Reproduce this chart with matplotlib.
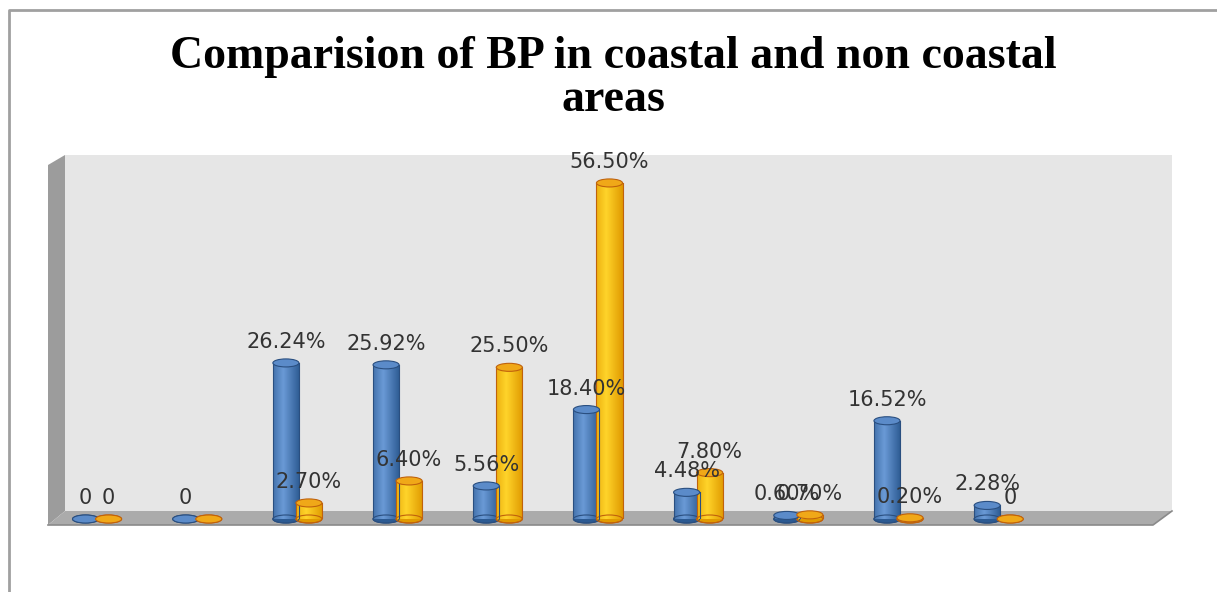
import matplotlib
matplotlib.use('Agg')
import matplotlib.pyplot as plt
import numpy as np
from matplotlib.patches import Rectangle, Ellipse, Polygon

# 两组数据：沿海 / 非沿海
coastal = [0, 0, 26.24, 25.92, 5.56, 18.40, 4.48, 0.60, 16.52, 2.28]
non_coastal = [0, 0, 2.70, 6.40, 25.50, 56.50, 7.80, 0.70, 0.20, 0]
coastal_labels = ['0', '0', '26.24%', '25.92%', '5.56%', '18.40%', '4.48%', '0.60%', '16.52%', '2.28%']
non_coastal_labels = ['0', None, '2.70%', '6.40%', '25.50%', '56.50%', '7.80%', '0.70%', '0.20%', '0']
title_lines = ['Comparision of BP in coastal and non coastal', 'areas']

W, H = 1217, 592
fig = plt.figure(figsize=(W / 100, H / 100), dpi=100)

# 背景层，用像素坐标画边框、侧墙和底座
bg = fig.add_axes([0, 0, 1, 1])
bg.set_xlim(0, W)
bg.set_ylim(H, 0)
bg.axis('off')
bg.plot([9, 9, W], [H, 10, 10], color='#a0a0a0', lw=2)
bg.add_patch(Polygon([(65, 155), (1172, 155), (1172, 511), (65, 511)], closed=True, fc='#e6e6e6', ec='none'))
bg.add_patch(Polygon([(48, 165), (65, 155), (65, 511), (48, 525)], closed=True, fc='#9c9c9c', ec='none'))
bg.add_patch(Polygon([(48, 525), (65, 511), (1172, 511), (1153, 525)], closed=True, fc='#ababab', ec='none'))
bg.plot([48, 1153, 1172], [525, 525, 511], color='#8a8a8a', lw=1.2)

for ty, line in zip([57, 100], title_lines):
    bg.text(613, ty, line, ha='center', va='center',
            fontsize=33, fontweight='bold', family='Liberation Serif', color='black')

# 数据层
y_top = 61.2
ax = fig.add_axes([67 / W, (H - 519) / H, (1172 - 67) / W, (519 - 155) / H])
ax.set_xlim(-0.30, 10.73)
ax.set_ylim(0, y_top)
ax.patch.set_alpha(0)
ax.axis('off')

bw = 0.26
off = 0.115
eh = 1.35


def cylinder(x, h, cols, edge, top):
    # 底部椭圆
    ax.add_patch(Ellipse((x, 0), bw, eh, fc=cols[0], ec=edge, lw=0.8, zorder=2, clip_on=False))
    if h > 0:
        body = Rectangle((x - bw / 2, 0), bw, h, fc='none', ec='none', zorder=3)
        ax.add_patch(body)
        grad = np.linspace(0, 1, 64)
        shade = 1 - np.abs(grad - 0.38) * 1.6
        cmap = matplotlib.colors.LinearSegmentedColormap.from_list('c', cols)
        im = ax.imshow(shade[None, :], cmap=cmap, vmin=0, vmax=1, aspect='auto',
                       extent=(x - bw / 2, x + bw / 2, 0, h), zorder=3, interpolation='bilinear')
        im.set_clip_path(body)
        ax.plot([x - bw / 2, x - bw / 2], [0, h], color=edge, lw=0.8, zorder=4)
        ax.plot([x + bw / 2, x + bw / 2], [0, h], color=edge, lw=0.8, zorder=4)
        ax.add_patch(Ellipse((x, 0), bw, eh, fc='none', ec=edge, lw=0.8, zorder=3, clip_on=False))
    ax.add_patch(Ellipse((x, h), bw, eh, fc=top, ec=edge, lw=0.8, zorder=5, clip_on=False))


blue = ['#2c5a92', '#6a9ad6']
gold = ['#e09a00', '#ffd42a']

for i in range(len(coastal)):
    cylinder(i - off, coastal[i], blue, '#2a4f80', '#5b8bc9')
    cylinder(i + off, non_coastal[i], gold, '#c0620c', '#f0a818')

ax.set_xlim(-0.30, 10.73)
ax.set_ylim(0, y_top)

for i in range(len(coastal)):
    for x, v, lab in [(i - off, coastal[i], coastal_labels[i]), (i + off, non_coastal[i], non_coastal_labels[i])]:
        if lab is None:
            continue
        ax.annotate(lab, (x, v), xytext=(0, 15), textcoords='offset pixels',
                    ha='center', va='baseline', fontsize=15, color='#333333',
                    family='DejaVu Sans', zorder=6, annotation_clip=False)

fig.savefig('out.png', dpi=100)
